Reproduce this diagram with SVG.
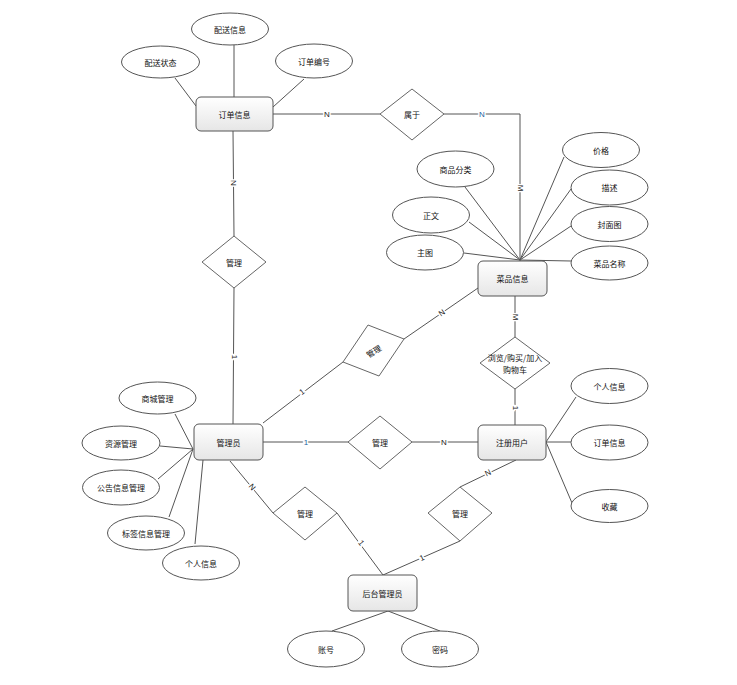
<svg xmlns="http://www.w3.org/2000/svg" width="737" height="685" viewBox="0 0 737 685">
<defs>
<linearGradient id="boxg" x1="0" y1="0" x2="0" y2="1">
<stop offset="0" stop-color="#ffffff"/>
<stop offset="1" stop-color="#e6e6e6"/>
</linearGradient>
<style>
.box{fill:url(#boxg);stroke:#555;stroke-width:1}
.ell{fill:#fff;stroke:#555;stroke-width:1}
.dia{fill:#fff;stroke:#666;stroke-width:1}
.ln{stroke:#555;stroke-width:1;fill:none}
.t{font-family:"Noto Sans CJK SC","Liberation Sans",sans-serif;font-size:8px;fill:#111;text-anchor:middle;dominant-baseline:central}
.lb{font-family:"Liberation Sans",sans-serif;font-size:8px;fill:#222;text-anchor:middle;dominant-baseline:central;stroke:#fff;stroke-width:3;paint-order:stroke}
.blue{fill:#1f5fa0}
</style>
</defs>
<rect width="737" height="685" fill="#fff"/>
<g id="connectors">
<line class="ln" x1="234" y1="45" x2="234" y2="97"/>
<line class="ln" x1="175" y1="78" x2="196" y2="106"/>
<line class="ln" x1="304" y1="79" x2="273" y2="107"/>
<polyline class="ln" points="273,114 380,114"/>
<polyline class="ln" points="444,114 520,114 520,261"/>
<line class="ln" x1="233" y1="131" x2="234" y2="236"/>
<line class="ln" x1="234" y1="288" x2="233" y2="424"/>
<line class="ln" x1="465" y1="187" x2="520" y2="260"/>
<line class="ln" x1="469" y1="222" x2="520" y2="260"/>
<line class="ln" x1="464" y1="253" x2="520" y2="260"/>
<line class="ln" x1="564" y1="157" x2="520" y2="260"/>
<line class="ln" x1="571" y1="189" x2="520" y2="260"/>
<line class="ln" x1="571" y1="226" x2="520" y2="260"/>
<line class="ln" x1="520" y1="260" x2="571" y2="261"/>
<line class="ln" x1="515" y1="296" x2="515" y2="337"/>
<line class="ln" x1="515" y1="389" x2="515" y2="425"/>
<line class="ln" x1="263" y1="423" x2="343" y2="362"/>
<line class="ln" x1="404" y1="339" x2="478" y2="288"/>
<line class="ln" x1="263" y1="442" x2="348" y2="442"/>
<line class="ln" x1="412" y1="442" x2="478" y2="442"/>
<line class="ln" x1="175" y1="414" x2="193" y2="449"/>
<line class="ln" x1="160" y1="446" x2="193" y2="449"/>
<line class="ln" x1="158" y1="479" x2="193" y2="449"/>
<line class="ln" x1="169" y1="517" x2="193" y2="449"/>
<line class="ln" x1="195" y1="544" x2="203" y2="460"/>
<line class="ln" x1="546" y1="442" x2="576" y2="397"/>
<line class="ln" x1="546" y1="442" x2="571" y2="442"/>
<line class="ln" x1="546" y1="442" x2="572" y2="503"/>
<line class="ln" x1="230" y1="461" x2="273" y2="513"/>
<line class="ln" x1="337" y1="513" x2="383" y2="575"/>
<line class="ln" x1="460" y1="541" x2="383" y2="575"/>
<line class="ln" x1="460" y1="487" x2="516" y2="460"/>
<line class="ln" x1="332" y1="631" x2="388" y2="611"/>
<line class="ln" x1="440" y1="631" x2="388" y2="611"/>
<text class="lb" x="327" y="114">N</text>
<text class="lb blue" x="482" y="114">N</text>
<text class="lb" transform="translate(233,183) rotate(90)">N</text>
<text class="lb" transform="translate(234,357) rotate(90)">1</text>
<text class="lb" transform="translate(520,188) rotate(90)">M</text>
<text class="lb" transform="translate(515,317) rotate(90)">M</text>
<text class="lb" transform="translate(515,408) rotate(90)">1</text>
<text class="lb" transform="translate(442,313) rotate(-35)">N</text>
<text class="lb" transform="translate(302,392) rotate(-36)">1</text>
<text class="lb blue" x="306" y="442">1</text>
<text class="lb" x="444" y="442">N</text>
<text class="lb" transform="translate(252,487) rotate(50)">N</text>
<text class="lb" transform="translate(361,543) rotate(53)">1</text>
<text class="lb" transform="translate(422,558) rotate(-24)">1</text>
<text class="lb" transform="translate(488,473) rotate(-26)">N</text>
</g>
<g id="order">
<rect class="box" x="196" y="97" width="77" height="34" rx="5"/>
<text class="t" x="234.5" y="114">订单信息</text>
</g>
<g id="order-delivery-info">
<ellipse class="ell" cx="230" cy="29" rx="38.5" ry="16"/>
<text class="t" x="230" y="29">配送信息</text>
</g>
<g id="order-delivery-status">
<ellipse class="ell" cx="160.5" cy="62" rx="39" ry="16"/>
<text class="t" x="160.5" y="62">配送状态</text>
</g>
<g id="order-number">
<ellipse class="ell" cx="314" cy="61" rx="38.5" ry="17"/>
<text class="t" x="314" y="61">订单编号</text>
</g>
<g id="belongs">
<polygon class="dia" points="380,114 412,89 444,114 412,140"/>
<text class="t" x="412" y="114">属于</text>
</g>
<g id="dish">
<rect class="box" x="478" y="261" width="69" height="35" rx="5"/>
<text class="t" x="512.5" y="278.5">菜品信息</text>
</g>
<g id="dish-category">
<ellipse class="ell" cx="455.5" cy="169" rx="38.5" ry="18"/>
<text class="t" x="455.5" y="169">商品分类</text>
</g>
<g id="dish-text">
<ellipse class="ell" cx="431" cy="215" rx="38.5" ry="18"/>
<text class="t" x="431" y="215">正文</text>
</g>
<g id="dish-mainimg">
<ellipse class="ell" cx="425" cy="252.5" rx="38.5" ry="17.5"/>
<text class="t" x="425" y="252.5">主图</text>
</g>
<g id="dish-price">
<ellipse class="ell" cx="601" cy="150" rx="38.5" ry="17.5"/>
<text class="t" x="601" y="150">价格</text>
</g>
<g id="dish-desc">
<ellipse class="ell" cx="609.5" cy="187.5" rx="38.5" ry="17.5"/>
<text class="t" x="609.5" y="187.5">描述</text>
</g>
<g id="dish-cover">
<ellipse class="ell" cx="609.5" cy="224" rx="38.5" ry="17.5"/>
<text class="t" x="609.5" y="224">封面图</text>
</g>
<g id="dish-name">
<ellipse class="ell" cx="609.5" cy="263" rx="38.5" ry="17"/>
<text class="t" x="609.5" y="263">菜品名称</text>
</g>
<g id="browse">
<polygon class="dia" points="480,363 515,337 550,363 515,389"/>
<text class="t" x="515" y="357">浏览/购买/加入</text>
<text class="t" x="515" y="369">购物车</text>
</g>
<g id="manage-order">
<polygon class="dia" points="202,262 234,236 266,262 234,288"/>
<text class="t" x="234" y="262">管理</text>
</g>
<g id="manage-dish">
<polygon class="dia" points="343,362 368,325 404,339 379,376"/>
<text class="t" transform="translate(373.5,351) rotate(-33)">管理</text>
</g>
<g id="manage-user">
<polygon class="dia" points="348,442 380,416 412,442 380,469"/>
<text class="t" x="380" y="442">管理</text>
</g>
<g id="admin">
<rect class="box" x="194" y="424" width="69" height="36" rx="5"/>
<text class="t" x="228.5" y="442">管理员</text>
</g>
<g id="admin-mall">
<ellipse class="ell" cx="157.5" cy="398" rx="38.5" ry="16"/>
<text class="t" x="157.5" y="398">商城管理</text>
</g>
<g id="admin-resource">
<ellipse class="ell" cx="121" cy="443" rx="39" ry="17"/>
<text class="t" x="121" y="443">资源管理</text>
</g>
<g id="admin-notice">
<ellipse class="ell" cx="121" cy="487.5" rx="38.5" ry="17.5"/>
<text class="t" x="121" y="487.5">公告信息管理</text>
</g>
<g id="admin-tag">
<ellipse class="ell" cx="146" cy="533" rx="38.5" ry="17"/>
<text class="t" x="146" y="533">标签信息管理</text>
</g>
<g id="admin-personal">
<ellipse class="ell" cx="201" cy="563" rx="38.5" ry="17"/>
<text class="t" x="201" y="563">个人信息</text>
</g>
<g id="user">
<rect class="box" x="478" y="425" width="68" height="35" rx="5"/>
<text class="t" x="512" y="442.5">注册用户</text>
</g>
<g id="user-personal">
<ellipse class="ell" cx="609.5" cy="386" rx="38.5" ry="17.5"/>
<text class="t" x="609.5" y="386">个人信息</text>
</g>
<g id="user-order">
<ellipse class="ell" cx="609.5" cy="442.5" rx="38.5" ry="17.5"/>
<text class="t" x="609.5" y="442.5">订单信息</text>
</g>
<g id="user-fav">
<ellipse class="ell" cx="609.5" cy="506" rx="38.5" ry="16.5"/>
<text class="t" x="609.5" y="506">收藏</text>
</g>
<g id="manage-backend-admin">
<polygon class="dia" points="273,513 305,487 337,513 305,540"/>
<text class="t" x="305" y="513">管理</text>
</g>
<g id="manage-backend-user">
<polygon class="dia" points="428,513 460,487 492,513 460,541"/>
<text class="t" x="460" y="513">管理</text>
</g>
<g id="backend-admin">
<rect class="box" x="348" y="575" width="69" height="36" rx="5"/>
<text class="t" x="382.5" y="593">后台管理员</text>
</g>
<g id="backend-account">
<ellipse class="ell" cx="326" cy="649" rx="38.5" ry="18"/>
<text class="t" x="326" y="649">账号</text>
</g>
<g id="backend-password">
<ellipse class="ell" cx="440" cy="649" rx="38.5" ry="18"/>
<text class="t" x="440" y="649">密码</text>
</g>
</svg>
